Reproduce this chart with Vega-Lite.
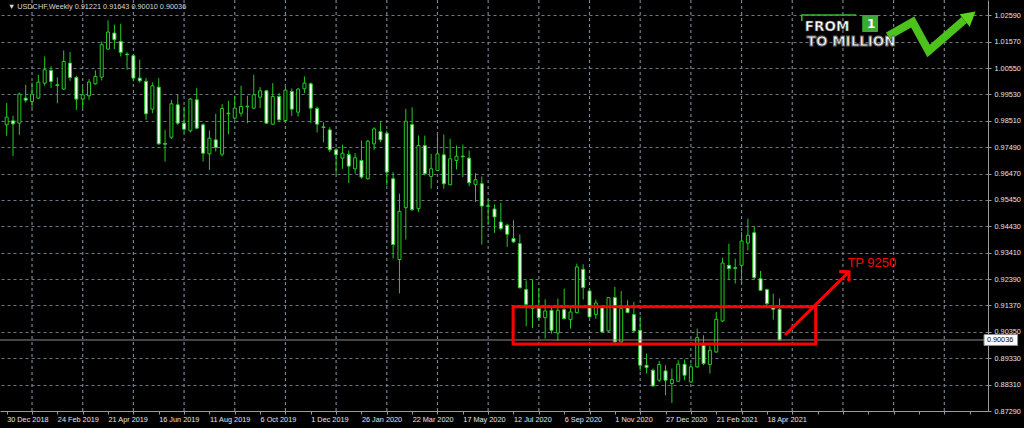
{
  "$schema": "https://vega.github.io/schema/vega-lite/v6.json",
  "width": 988,
  "height": 411,
  "autosize": {"type": "none"},
  "padding": {"left": 0, "top": 0, "right": 36, "bottom": 17},
  "background": "#000000",
  "config": {"view": {"stroke": null}, "font": "Liberation Sans"},
  "resolve": {"axis": {"x": "independent"}},
  "datasets": {
    "gridweeks": [
      {"date": "2019-01-27"}, {"date": "2019-03-24"}, {"date": "2019-05-19"}, {"date": "2019-07-14"},
      {"date": "2019-09-08"}, {"date": "2019-11-03"}, {"date": "2019-12-29"}, {"date": "2020-02-23"},
      {"date": "2020-04-19"}, {"date": "2020-06-14"}, {"date": "2020-08-09"}, {"date": "2020-10-04"},
      {"date": "2020-11-29"}, {"date": "2021-01-24"}, {"date": "2021-03-21"}, {"date": "2021-05-16"},
      {"date": "2021-07-11"}, {"date": "2021-09-05"}, {"date": "2021-10-31"}
    ],
    "candles": [
      {"date": "2018-12-30", "open": 0.98356, "high": 0.99195, "low": 0.97929, "close": 0.98652},
      {"date": "2019-01-06", "open": 0.98510, "high": 0.98704, "low": 0.97155, "close": 0.98394},
      {"date": "2019-01-13", "open": 0.98420, "high": 0.99608, "low": 0.97968, "close": 0.99543},
      {"date": "2019-01-20", "open": 0.99388, "high": 0.99905, "low": 0.99220, "close": 0.99311},
      {"date": "2019-01-27", "open": 0.99259, "high": 0.99995, "low": 0.99001, "close": 0.99543},
      {"date": "2019-02-03", "open": 0.99388, "high": 1.00292, "low": 0.99350, "close": 1.00008},
      {"date": "2019-02-10", "open": 0.99969, "high": 1.01002, "low": 0.99866, "close": 1.00486},
      {"date": "2019-02-17", "open": 1.00460, "high": 1.00615, "low": 0.99776, "close": 1.00034},
      {"date": "2019-02-24", "open": 0.99905, "high": 1.00189, "low": 0.99195, "close": 0.99879},
      {"date": "2019-03-03", "open": 0.99737, "high": 1.01234, "low": 0.99711, "close": 1.00808},
      {"date": "2019-03-10", "open": 1.00744, "high": 1.01170, "low": 1.00060, "close": 1.00189},
      {"date": "2019-03-17", "open": 1.00189, "high": 1.00253, "low": 0.98936, "close": 0.99350},
      {"date": "2019-03-24", "open": 0.99350, "high": 0.99814, "low": 0.99001, "close": 0.99517},
      {"date": "2019-03-31", "open": 0.99479, "high": 1.00124, "low": 0.99324, "close": 1.00008},
      {"date": "2019-04-07", "open": 0.99943, "high": 1.00460, "low": 0.99905, "close": 1.00227},
      {"date": "2019-04-14", "open": 1.00202, "high": 1.01583, "low": 1.00073, "close": 1.01454},
      {"date": "2019-04-21", "open": 1.01286, "high": 1.02396, "low": 1.01260, "close": 1.01944},
      {"date": "2019-04-28", "open": 1.01906, "high": 1.02229, "low": 1.01286, "close": 1.01648},
      {"date": "2019-05-05", "open": 1.01583, "high": 1.02267, "low": 1.01002, "close": 1.01157},
      {"date": "2019-05-12", "open": 1.01092, "high": 1.01157, "low": 1.00486, "close": 1.01067},
      {"date": "2019-05-19", "open": 1.01028, "high": 1.01067, "low": 1.00034, "close": 1.00163},
      {"date": "2019-05-26", "open": 1.00163, "high": 1.00873, "low": 0.99995, "close": 1.00060},
      {"date": "2019-06-02", "open": 1.00034, "high": 1.00163, "low": 0.98549, "close": 0.98782},
      {"date": "2019-06-09", "open": 0.98962, "high": 0.99995, "low": 0.98807, "close": 0.99866},
      {"date": "2019-06-16", "open": 0.99814, "high": 1.00163, "low": 0.97581, "close": 0.97620},
      {"date": "2019-06-23", "open": 0.97633, "high": 0.98162, "low": 0.96935, "close": 0.97607},
      {"date": "2019-06-30", "open": 0.97878, "high": 0.99324, "low": 0.97800, "close": 0.99169},
      {"date": "2019-07-07", "open": 0.99130, "high": 0.99517, "low": 0.98356, "close": 0.98420},
      {"date": "2019-07-14", "open": 0.98420, "high": 0.99066, "low": 0.98059, "close": 0.98188},
      {"date": "2019-07-21", "open": 0.98123, "high": 0.99388, "low": 0.98059, "close": 0.99350},
      {"date": "2019-07-28", "open": 0.99324, "high": 0.99776, "low": 0.98188, "close": 0.98226},
      {"date": "2019-08-04", "open": 0.98356, "high": 0.98420, "low": 0.96935, "close": 0.97258},
      {"date": "2019-08-11", "open": 0.97232, "high": 0.98136, "low": 0.96613, "close": 0.97839},
      {"date": "2019-08-18", "open": 0.97775, "high": 0.98782, "low": 0.97323, "close": 0.97478},
      {"date": "2019-08-25", "open": 0.97219, "high": 0.99156, "low": 0.97129, "close": 0.98988},
      {"date": "2019-09-01", "open": 0.98807, "high": 0.99285, "low": 0.97994, "close": 0.98782},
      {"date": "2019-09-08", "open": 0.98614, "high": 0.99479, "low": 0.98549, "close": 0.99001},
      {"date": "2019-09-15", "open": 0.98807, "high": 0.99866, "low": 0.98678, "close": 0.99066},
      {"date": "2019-09-22", "open": 0.99053, "high": 0.99479, "low": 0.98420, "close": 0.99078},
      {"date": "2019-09-29", "open": 0.99001, "high": 1.00292, "low": 0.98975, "close": 0.99517},
      {"date": "2019-10-06", "open": 0.99427, "high": 0.99814, "low": 0.99001, "close": 0.99672},
      {"date": "2019-10-13", "open": 0.99672, "high": 0.99685, "low": 0.98394, "close": 0.98420},
      {"date": "2019-10-20", "open": 0.98381, "high": 0.99969, "low": 0.98356, "close": 0.99453},
      {"date": "2019-10-27", "open": 0.99453, "high": 0.99582, "low": 0.98523, "close": 0.98549},
      {"date": "2019-11-03", "open": 0.98523, "high": 0.99814, "low": 0.98485, "close": 0.99698},
      {"date": "2019-11-10", "open": 0.99647, "high": 0.99763, "low": 0.98704, "close": 0.98962},
      {"date": "2019-11-17", "open": 0.98846, "high": 0.99776, "low": 0.98678, "close": 0.99737},
      {"date": "2019-11-24", "open": 0.99750, "high": 1.00227, "low": 0.99582, "close": 0.99969},
      {"date": "2019-12-01", "open": 0.99943, "high": 0.99995, "low": 0.98420, "close": 0.99001},
      {"date": "2019-12-08", "open": 0.98988, "high": 0.99066, "low": 0.98059, "close": 0.98381},
      {"date": "2019-12-15", "open": 0.98276, "high": 0.98455, "low": 0.97684, "close": 0.98250},
      {"date": "2019-12-22", "open": 0.98160, "high": 0.98263, "low": 0.97299, "close": 0.97389},
      {"date": "2019-12-29", "open": 0.97389, "high": 0.97466, "low": 0.96464, "close": 0.97196},
      {"date": "2020-01-05", "open": 0.97068, "high": 0.97594, "low": 0.96656, "close": 0.97260},
      {"date": "2020-01-12", "open": 0.97209, "high": 0.97363, "low": 0.96104, "close": 0.96759},
      {"date": "2020-01-19", "open": 0.96656, "high": 0.97260, "low": 0.96464, "close": 0.97080},
      {"date": "2020-01-26", "open": 0.96978, "high": 0.97749, "low": 0.96271, "close": 0.96335},
      {"date": "2020-02-02", "open": 0.96271, "high": 0.97774, "low": 0.96245, "close": 0.97723},
      {"date": "2020-02-09", "open": 0.97620, "high": 0.98263, "low": 0.97389, "close": 0.98198},
      {"date": "2020-02-16", "open": 0.98096, "high": 0.98455, "low": 0.97684, "close": 0.97774},
      {"date": "2020-02-23", "open": 0.98031, "high": 0.98134, "low": 0.96014, "close": 0.96528},
      {"date": "2020-03-01", "open": 0.96271, "high": 0.96528, "low": 0.93187, "close": 0.93727},
      {"date": "2020-03-08", "open": 0.93148, "high": 0.95693, "low": 0.91838, "close": 0.95012},
      {"date": "2020-03-15", "open": 0.95153, "high": 0.98969, "low": 0.93919, "close": 0.98494},
      {"date": "2020-03-22", "open": 0.98365, "high": 0.99034, "low": 0.95024, "close": 0.95076},
      {"date": "2020-03-29", "open": 0.95114, "high": 0.97941, "low": 0.94986, "close": 0.97556},
      {"date": "2020-04-05", "open": 0.97556, "high": 0.97941, "low": 0.96399, "close": 0.96464},
      {"date": "2020-04-12", "open": 0.96361, "high": 0.97235, "low": 0.95885, "close": 0.96656},
      {"date": "2020-04-19", "open": 0.96592, "high": 0.98006, "low": 0.96566, "close": 0.97235},
      {"date": "2020-04-26", "open": 0.97196, "high": 0.97980, "low": 0.95885, "close": 0.96078},
      {"date": "2020-05-03", "open": 0.96040, "high": 0.97813, "low": 0.96014, "close": 0.97042},
      {"date": "2020-05-10", "open": 0.96978, "high": 0.97556, "low": 0.96631, "close": 0.97145},
      {"date": "2020-05-17", "open": 0.97145, "high": 0.97594, "low": 0.96335, "close": 0.97119},
      {"date": "2020-05-24", "open": 0.97068, "high": 0.97363, "low": 0.95975, "close": 0.96117},
      {"date": "2020-05-31", "open": 0.96052, "high": 0.96489, "low": 0.95371, "close": 0.96232},
      {"date": "2020-06-07", "open": 0.96078, "high": 0.96361, "low": 0.93727, "close": 0.95217},
      {"date": "2020-06-14", "open": 0.95230, "high": 0.95500, "low": 0.94536, "close": 0.95204},
      {"date": "2020-06-21", "open": 0.95102, "high": 0.95281, "low": 0.94176, "close": 0.94793},
      {"date": "2020-06-28", "open": 0.94600, "high": 0.95333, "low": 0.94279, "close": 0.94343},
      {"date": "2020-07-05", "open": 0.94472, "high": 0.94536, "low": 0.93637, "close": 0.94125},
      {"date": "2020-07-12", "open": 0.93958, "high": 0.94665, "low": 0.93791, "close": 0.93829},
      {"date": "2020-07-19", "open": 0.93765, "high": 0.94112, "low": 0.92030, "close": 0.92056},
      {"date": "2020-07-26", "open": 0.91983, "high": 0.92343, "low": 0.90566, "close": 0.91416},
      {"date": "2020-08-02", "open": 0.91287, "high": 0.92382, "low": 0.90502, "close": 0.91262},
      {"date": "2020-08-09", "open": 0.91249, "high": 0.92021, "low": 0.90798, "close": 0.90901},
      {"date": "2020-08-16", "open": 0.90901, "high": 0.91609, "low": 0.90089, "close": 0.91158},
      {"date": "2020-08-23", "open": 0.91184, "high": 0.91313, "low": 0.90283, "close": 0.90411},
      {"date": "2020-08-30", "open": 0.90308, "high": 0.91635, "low": 0.89999, "close": 0.91184},
      {"date": "2020-09-06", "open": 0.91210, "high": 0.92021, "low": 0.90824, "close": 0.90862},
      {"date": "2020-09-13", "open": 0.90824, "high": 0.91313, "low": 0.90476, "close": 0.91120},
      {"date": "2020-09-20", "open": 0.91094, "high": 0.92987, "low": 0.91055, "close": 0.92859},
      {"date": "2020-09-27", "open": 0.92768, "high": 0.92962, "low": 0.91596, "close": 0.92060},
      {"date": "2020-10-04", "open": 0.91931, "high": 0.91957, "low": 0.90901, "close": 0.90927},
      {"date": "2020-10-11", "open": 0.91017, "high": 0.91596, "low": 0.90862, "close": 0.91468},
      {"date": "2020-10-18", "open": 0.91287, "high": 0.91339, "low": 0.90308, "close": 0.90347},
      {"date": "2020-10-25", "open": 0.90386, "high": 0.91699, "low": 0.90347, "close": 0.91674},
      {"date": "2020-11-01", "open": 0.91674, "high": 0.92086, "low": 0.89922, "close": 0.89961},
      {"date": "2020-11-08", "open": 0.89961, "high": 0.91931, "low": 0.89922, "close": 0.91249},
      {"date": "2020-11-15", "open": 0.91287, "high": 0.91571, "low": 0.91081, "close": 0.91094},
      {"date": "2020-11-22", "open": 0.91017, "high": 0.91506, "low": 0.90347, "close": 0.90386},
      {"date": "2020-11-29", "open": 0.90411, "high": 0.90952, "low": 0.88840, "close": 0.89059},
      {"date": "2020-12-06", "open": 0.89059, "high": 0.89510, "low": 0.88737, "close": 0.88969},
      {"date": "2020-12-13", "open": 0.88866, "high": 0.88930, "low": 0.88222, "close": 0.88260},
      {"date": "2020-12-20", "open": 0.88479, "high": 0.89226, "low": 0.88415, "close": 0.89085},
      {"date": "2020-12-27", "open": 0.88840, "high": 0.89059, "low": 0.87900, "close": 0.88479},
      {"date": "2021-01-03", "open": 0.88351, "high": 0.88930, "low": 0.87604, "close": 0.88505},
      {"date": "2021-01-10", "open": 0.88441, "high": 0.89252, "low": 0.88415, "close": 0.89098},
      {"date": "2021-01-17", "open": 0.89098, "high": 0.89278, "low": 0.88479, "close": 0.88673},
      {"date": "2021-01-24", "open": 0.88415, "high": 0.89123, "low": 0.88380, "close": 0.88995},
      {"date": "2021-01-31", "open": 0.88995, "high": 0.90476, "low": 0.88969, "close": 0.90128},
      {"date": "2021-02-07", "open": 0.89832, "high": 0.90218, "low": 0.89059, "close": 0.89123},
      {"date": "2021-02-14", "open": 0.89085, "high": 0.89806, "low": 0.88737, "close": 0.89639},
      {"date": "2021-02-21", "open": 0.89574, "high": 0.91120, "low": 0.89536, "close": 0.90836},
      {"date": "2021-02-28", "open": 0.90772, "high": 0.93219, "low": 0.90733, "close": 0.93013},
      {"date": "2021-03-07", "open": 0.92923, "high": 0.93760, "low": 0.92369, "close": 0.92794},
      {"date": "2021-03-14", "open": 0.92833, "high": 0.93181, "low": 0.92215, "close": 0.92807},
      {"date": "2021-03-21", "open": 0.92923, "high": 0.94211, "low": 0.92215, "close": 0.93863},
      {"date": "2021-03-28", "open": 0.93786, "high": 0.94726, "low": 0.93503, "close": 0.94082},
      {"date": "2021-04-04", "open": 0.94185, "high": 0.94430, "low": 0.92369, "close": 0.92446},
      {"date": "2021-04-11", "open": 0.92408, "high": 0.92704, "low": 0.91931, "close": 0.91957},
      {"date": "2021-04-18", "open": 0.91983, "high": 0.92021, "low": 0.91313, "close": 0.91442},
      {"date": "2021-04-25", "open": 0.91300, "high": 0.91828, "low": 0.90824, "close": 0.91221},
      {"date": "2021-05-02", "open": 0.91221, "high": 0.91643, "low": 0.90010, "close": 0.90036}
    ]
  },
  "layer": [
    {
      "data": {"name": "gridweeks"},
      "mark": {"type": "rule", "color": "#74818f", "strokeWidth": 1.2, "strokeDash": [3, 3]},
      "encoding": {
        "x": {"field": "date", "type": "temporal", "axis": null},
        "y": {"datum": 1.03183, "type": "quantitative", "axis": {"title": null}},
        "y2": {"datum": 0.8729}
      }
    },
    {
      "data": {"name": "candles"},
      "mark": {"type": "rule", "color": "#22cc22", "strokeWidth": 1},
      "encoding": {
        "x": {
          "field": "date", "type": "temporal",
          "scale": {"type": "utc", "domain": [1545967350000, 1639333728000]},
          "axis": {
            "title": null,
            "orient": "bottom",
            "tickCount": 200,
            "values": [1546128000000, 1548547200000, 1550966400000, 1553385600000, 1555804800000, 1558224000000, 1560643200000, 1563062400000, 1565481600000, 1567900800000, 1570320000000, 1572739200000, 1575158400000, 1577577600000, 1579996800000, 1582416000000, 1584835200000, 1587254400000, 1589673600000, 1592092800000, 1594512000000, 1596931200000, 1599350400000, 1601769600000, 1604188800000, 1606608000000, 1609027200000, 1611446400000, 1613865600000, 1616284800000, 1618704000000, 1621123200000, 1623542400000, 1625961600000, 1628380800000, 1630800000000, 1633219200000, 1635638400000, 1638057600000],
            "labelExpr": "(round((datum.value - 1546128000000) / 2419200000) % 2 == 0 && datum.value < 1618800000000) ? utcFormat(datum.value, '%-d %b %Y') : ''",
            "labelAlign": "left",
            "labelColor": "#e4e4e4",
            "labelFont": "Liberation Sans",
            "labelFontSize": 7.3,
            "labelPadding": 1,
            "labelFlush": false,
            "labelOverlap": false,
            "labelBound": false,
            "domainColor": "#9a9a9a",
            "tickColor": "#9a9a9a",
            "tickSize": 3,
            "grid": false
          }
        },
        "y": {
          "field": "low", "type": "quantitative",
          "scale": {"domain": [0.8729, 1.03183], "nice": false, "zero": false},
          "axis": {
            "title": null,
            "orient": "right",
            "tickCount": 200,
            "values": [0.8729, 0.8831, 0.8933, 0.9035, 0.9137, 0.9239, 0.9341, 0.9443, 0.9545, 0.9647, 0.9749, 0.9851, 0.9953, 1.0055, 1.0157, 1.0259],
            "format": ".5f",
            "labelColor": "#e4e4e4",
            "labelFont": "Liberation Sans",
            "labelFontSize": 7.3,
            "labelPadding": 3,
            "labelBaseline": "middle",
            "labelOverlap": false,
            "labelBound": false,
            "domainColor": "#9a9a9a",
            "tickColor": "#9a9a9a",
            "tickSize": 3,
            "grid": true,
            "gridColor": "#6b7888",
            "gridDash": [3, 3]
          }
        },
        "y2": {"field": "high"}
      }
    },
    {
      "data": {"name": "candles"},
      "mark": {"type": "bar", "size": 3, "stroke": "#22cc22", "strokeWidth": 1},
      "encoding": {
        "x": {"field": "date", "type": "temporal", "axis": null},
        "y": {"field": "open", "type": "quantitative", "axis": {"title": null}},
        "y2": {"field": "close"},
        "fill": {"condition": {"test": "datum.close < datum.open", "value": "#ffffff"}, "value": "#000000"}
      }
    },
    {
      "data": {"values": [{"price": 0.90036}]},
      "mark": {"type": "rule", "color": "#8c8c8c", "strokeWidth": 1},
      "encoding": {"y": {"field": "price", "type": "quantitative", "axis": {"title": null}}}
    },
    {
      "data": {"values": [{"start": "2021-12-13T22:00:00Z", "end": "2022-01-20T00:00:00Z", "top": 0.90246, "bottom": 0.89826}]},
      "mark": {"type": "rect", "fill": "#ffffff", "stroke": "#8c8c8c", "strokeWidth": 1, "clip": false},
      "encoding": {
        "x": {"field": "start", "type": "temporal", "axis": null},
        "x2": {"field": "end"},
        "y": {"field": "top", "type": "quantitative", "axis": {"title": null}},
        "y2": {"field": "bottom"}
      }
    },
    {
      "data": {"values": [{"date": "2021-12-17T02:00:00Z", "price": 0.90036, "label": "0.90036"}]},
      "mark": {"type": "text", "align": "left", "baseline": "middle", "color": "#000000", "font": "Liberation Sans", "fontSize": 7.3, "clip": false},
      "encoding": {
        "x": {"field": "date", "type": "temporal", "axis": null},
        "y": {"field": "price", "type": "quantitative", "axis": {"title": null}},
        "text": {"field": "label"}
      }
    },
    {
      "data": {"values": [{"start": "2020-07-11T14:00:00Z", "end": "2021-06-10T22:00:00Z", "top": 0.91323, "bottom": 0.8988}]},
      "mark": {"type": "rect", "filled": false, "stroke": "#ff0000", "strokeWidth": 3},
      "encoding": {
        "x": {"field": "start", "type": "temporal", "axis": null},
        "x2": {"field": "end"},
        "y": {"field": "top", "type": "quantitative", "axis": {"title": null}},
        "y2": {"field": "bottom"}
      }
    },
    {
      "data": {"values": [{"date": "2021-05-08T00:00:00Z", "price": 0.90229}, {"date": "2021-07-17T19:00:00Z", "price": 0.92677}]},
      "mark": {"type": "line", "color": "#ff0000", "strokeWidth": 3},
      "encoding": {
        "x": {"field": "date", "type": "temporal", "axis": null},
        "y": {"field": "price", "type": "quantitative", "axis": {"title": null}}
      }
    },
    {
      "data": {"values": [{"date": "2021-07-17T19:00:00Z", "price": 0.92677}]},
      "mark": {"type": "point", "shape": "M-1,1L0,0L1,1", "size": 196, "angle": 45.6, "filled": false, "stroke": "#ff0000", "strokeWidth": 3, "opacity": 1},
      "encoding": {
        "x": {"field": "date", "type": "temporal", "axis": null},
        "y": {"field": "price", "type": "quantitative", "axis": {"title": null}}
      }
    },
    {
      "data": {"values": [{"date": "2021-07-15T22:00:00Z", "price": 0.93032, "label": "TP 9250"}]},
      "mark": {"type": "text", "align": "left", "baseline": "middle", "color": "#ff0000", "font": "Liberation Sans", "fontSize": 13},
      "encoding": {
        "x": {"field": "date", "type": "temporal", "axis": null},
        "y": {"field": "price", "type": "quantitative", "axis": {"title": null}},
        "text": {"field": "label"}
      }
    },
    {
      "data": {"values": [{"date": "2018-12-31T10:00:00Z", "price": 1.02913, "label": "▼ USDCHF,Weekly  0.91221 0.91643 0.90010 0.90036"}]},
      "mark": {"type": "text", "align": "left", "baseline": "middle", "color": "#d8d8d8", "font": "Liberation Sans", "fontSize": 7.3},
      "encoding": {
        "x": {"field": "date", "type": "temporal", "axis": null},
        "y": {"field": "price", "type": "quantitative", "axis": {"title": null}},
        "text": {"field": "label"}
      }
    },
    {
      "data": {"values": [
        {"date": "2021-05-26T14:00:00Z", "price": 1.02371, "o": 1},
        {"date": "2021-05-26T14:00:00Z", "price": 1.02603, "o": 2},
        {"date": "2021-07-25T19:00:00Z", "price": 1.02603, "o": 3}
      ]},
      "mark": {"type": "line", "color": "#3cb43c", "strokeWidth": 1.5},
      "encoding": {
        "x": {"field": "date", "type": "temporal", "axis": null},
        "y": {"field": "price", "type": "quantitative", "axis": {"title": null}},
        "order": {"field": "o"}
      }
    },
    {
      "data": {"values": [{"start": "2021-08-01T07:00:00Z", "end": "2021-08-18T19:00:00Z", "top": 1.02603, "bottom": 1.01946}]},
      "mark": {"type": "rect", "fill": "#3aaa35", "cornerRadius": 1},
      "encoding": {
        "x": {"field": "start", "type": "temporal", "axis": null},
        "x2": {"field": "end"},
        "y": {"field": "top", "type": "quantitative", "axis": {"title": null}},
        "y2": {"field": "bottom"}
      }
    },
    {
      "data": {"values": [{"date": "2021-08-11T05:00:00Z", "price": 1.02255, "label": "1"}]},
      "mark": {"type": "text", "align": "center", "baseline": "middle", "color": "#ffffff", "font": "DejaVu Sans", "fontWeight": "bold", "fontSize": 12},
      "encoding": {
        "x": {"field": "date", "type": "temporal", "axis": null},
        "y": {"field": "price", "type": "quantitative", "axis": {"title": null}},
        "text": {"field": "label"}
      }
    },
    {
      "data": {"values": [
        {"date": "2021-08-29T19:00:00Z", "price": 1.01791, "o": 1},
        {"date": "2021-09-26T02:00:00Z", "price": 1.02333, "o": 2},
        {"date": "2021-10-13T14:00:00Z", "price": 1.01211, "o": 3},
        {"date": "2021-11-22T00:00:00Z", "price": 1.02410, "o": 4}
      ]},
      "mark": {"type": "line", "color": "#4cc31c", "strokeWidth": 8, "strokeJoin": "miter"},
      "encoding": {
        "x": {"field": "date", "type": "temporal", "axis": null},
        "y": {"field": "price", "type": "quantitative", "axis": {"title": null}},
        "order": {"field": "o"}
      }
    },
    {
      "data": {"values": [{"date": "2021-11-28T12:00:00Z", "price": 1.02564}]},
      "mark": {"type": "point", "shape": "triangle-up", "size": 260, "angle": 51, "filled": true, "color": "#5ad21e", "opacity": 1},
      "encoding": {
        "x": {"field": "date", "type": "temporal", "axis": null},
        "y": {"field": "price", "type": "quantitative", "axis": {"title": null}}
      }
    },
    {
      "data": {"values": [{"date": "2021-05-29T22:00:00Z", "price": 1.02140, "label": "FROM"}]},
      "mark": {"type": "text", "align": "left", "baseline": "middle", "color": "#ffffff", "stroke": "#444444", "strokeWidth": 0.6, "font": "DejaVu Sans", "fontWeight": "bold", "fontSize": 13.5},
      "encoding": {
        "x": {"field": "date", "type": "temporal", "axis": null},
        "y": {"field": "price", "type": "quantitative", "axis": {"title": null}},
        "text": {"field": "label"}
      }
    },
    {
      "data": {"values": [{"date": "2021-06-01T02:00:00Z", "price": 1.01578, "label": "TO MILLION"}]},
      "mark": {"type": "text", "align": "left", "baseline": "middle", "color": "#ffffff", "stroke": "#666666", "strokeWidth": 1, "font": "DejaVu Sans", "fontWeight": "bold", "fontSize": 13.5},
      "encoding": {
        "x": {"field": "date", "type": "temporal", "axis": null},
        "y": {"field": "price", "type": "quantitative", "axis": {"title": null}},
        "text": {"field": "label"}
      }
    }
  ]
}
